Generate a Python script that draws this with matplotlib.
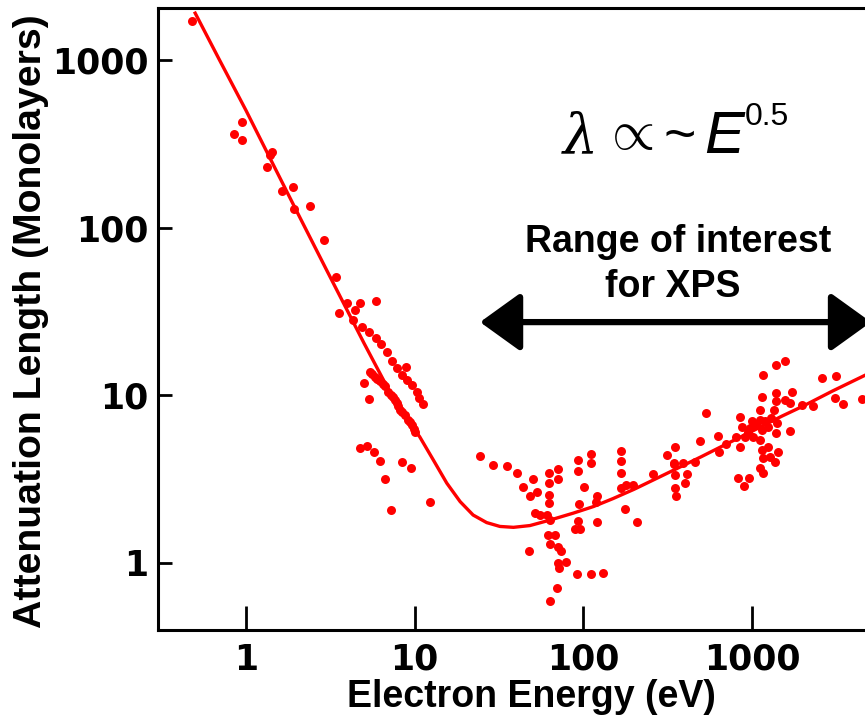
import numpy as np
import matplotlib.pyplot as plt
from matplotlib.patches import FancyArrowPatch
from matplotlib.ticker import NullLocator

# universal curve
curve_energy = [0.5, 0.7, 1, 1.5, 2, 3, 5, 7, 10, 10.7, 12.9, 15.5, 18.6, 22.2, 26.7,
                32, 38.5, 48.2, 63.3, 87, 115, 150, 200, 300, 500, 700, 1000, 1500,
                2000, 3000, 5000, 6000]
curve_length = [1900, 990, 500, 222, 125, 56, 20.5, 10.8, 6.2, 5.66, 4.11, 2.99, 2.32,
                1.93, 1.74, 1.65, 1.63, 1.67, 1.80, 1.98, 2.17, 2.42, 2.75, 3.35, 4.3,
                5.1, 6.1, 7.5, 8.6, 10.6, 13.6, 14.9]

# measured points, grouped by region of the plot
steep_energy = [0.48, 0.95, 0.85, 0.95, 1.43, 1.38, 1.33, 1.63, 1.91, 1.93, 2.39, 2.89]
steep_length = [1714, 428, 360, 333, 284, 270, 231, 165, 175, 129, 135, 84]

branch_energy = [3.42, 3.95, 4.74, 5.9, 3.56, 4.43, 4.32, 4.85, 5.36, 5.9, 6.3, 6.82,
                 7.3, 7.82, 8.85, 8.4, 8.97, 9.6, 10.3, 10.6, 11.2]
branch_length = [50.5, 35.7, 35.7, 36.6, 30.8, 32.3, 28.1, 25.6, 23.7, 22.0, 20.1, 18.2,
                 16.0, 14.5, 14.8, 13.2, 12.3, 11.5, 10.5, 9.6, 8.9]

cluster_energy = [5.43, 5.6, 5.8, 6.0, 6.23, 6.45, 6.67, 6.98, 7.2, 7.47, 7.65, 7.82,
                  8.0, 8.18, 8.45, 8.76, 9.15, 9.4, 9.6, 9.85, 10.05, 5.03, 5.38]
cluster_length = [13.8, 13.3, 12.9, 12.5, 12.1, 11.7, 11.3, 10.5, 10.1, 9.8, 9.4, 8.96,
                  8.6, 8.17, 7.9, 7.63, 7.12, 6.9, 6.65, 6.3, 6.07, 11.8, 9.5]

low_energy = [4.74, 5.23, 5.74, 6.23, 8.4, 9.5, 6.7, 12.3, 7.2, 24.4, 29.0]
low_length = [4.83, 4.98, 4.61, 4.07, 4.02, 3.67, 3.18, 2.32, 2.07, 4.36, 3.84]

dip_energy = [35.1, 40.4, 44, 50, 48.2, 53.3, 62.5, 71.1, 62.5, 71.1, 62.3, 62.5, 51.6,
              55.3, 60.6, 63.3, 62, 67.7, 63.3, 47.7, 71, 73.8, 71, 78.6, 71.9, 92,
              111, 131, 69.5, 63.3]
dip_length = [3.79, 3.44, 2.85, 3.18, 2.52, 2.64, 3.45, 3.63, 3.01, 3.16, 2.54, 2.27,
              1.98, 1.93, 1.93, 1.80, 1.47, 1.47, 1.30, 1.17, 1.24, 1.17, 1.0, 1.01,
              0.93, 0.86, 0.86, 0.87, 0.71, 0.59]

mid_energy = [92.9, 92.9, 111, 111, 101, 94.6, 93.4, 89, 96, 121, 118, 121, 167, 167,
              167, 167, 179, 196, 177, 207]
mid_length = [4.11, 3.54, 4.45, 3.93, 2.83, 2.25, 1.78, 1.59, 1.59, 2.49, 2.32, 1.76,
              4.67, 4.07, 3.45, 2.79, 2.92, 2.92, 2.09, 1.75]

upper_energy = [260, 312, 350, 343, 391, 458, 349, 413, 400, 349, 352, 491, 343, 533,
                625, 637, 700, 800]
upper_length = [3.4, 4.41, 4.94, 3.93, 3.93, 4.02, 3.35, 3.4, 2.99, 2.81, 2.51, 5.36,
                3.9, 7.81, 5.72, 4.57, 5.1, 5.6]

high_energy = [847, 867, 847, 907, 828, 899, 959, 972, 1017, 1114, 1114, 1140, 1114,
               1140, 1164, 1114, 1164, 1140, 1164, 1247, 1247, 1276, 1431, 1368, 1386,
               1386, 1349, 1397, 1386, 1386, 1574, 1567, 1717, 1678, 1678, 1966, 2287,
               2606, 3140, 3113, 3474, 4484, 950, 1000, 1050, 1200, 1300]
high_length = [7.45, 6.5, 4.94, 5.66, 3.2, 2.89, 3.2, 6.36, 5.66, 8.17, 7.12, 6.21,
               5.41, 4.72, 4.21, 3.67, 3.43, 9.8, 13.2, 6.5, 4.94, 4.3, 4.61, 4.02,
               10.3, 9.3, 8.17, 6.81, 5.93, 15.2, 16.0, 9.38, 10.4, 8.96, 6.12, 8.75,
               8.63, 12.6, 13.0, 9.6, 8.84, 9.47, 6.0, 7.0, 6.6, 7.0, 7.3]

energy = steep_energy + branch_energy + cluster_energy + low_energy + dip_energy + mid_energy + upper_energy + high_energy
length = steep_length + branch_length + cluster_length + low_length + dip_length + mid_length + upper_length + high_length

x_ticks = [1, 10, 100, 1000]
y_ticks = [1, 10, 100, 1000]

label_font = ['Liberation Sans']

fig = plt.figure(figsize=(8.65, 7.21), dpi=100)
ax = fig.add_axes([158 / 865, 91 / 721, 717 / 865, 622 / 721])
ax.set_xscale('log')
ax.set_yscale('log')
ax.set_xlim(0.301, 5352)
ax.set_ylim(0.398, 2039)

ax.plot(curve_energy, curve_length, color='red', lw=2.4, zorder=2)
ax.scatter(energy, length, s=42, color='red', lw=0, zorder=3)

ax.set_xticks(x_ticks)
ax.set_xticklabels([str(t) for t in x_ticks])
ax.set_yticks(y_ticks)
ax.set_yticklabels([str(t) for t in y_ticks])
ax.xaxis.set_minor_locator(NullLocator())
ax.yaxis.set_minor_locator(NullLocator())
ax.tick_params(axis='x', direction='in', length=17, width=2, pad=9, labelsize=25)
ax.tick_params(axis='y', direction='in', length=10, width=2, pad=7, labelsize=25)
for lab in ax.get_xticklabels() + ax.get_yticklabels():
    lab.set_fontweight('bold')

for side in ['left', 'bottom', 'top']:
    ax.spines[side].set_linewidth(2.2)
ax.spines['right'].set_visible(False)

fig.text(531 / 865, 1 - 697 / 721, 'Electron Energy (eV)', ha='center', va='center',
         fontsize=27, fontweight='bold', family=label_font)
fig.text(31 / 865, 1 - 321 / 721, 'Attenuation Length (Monolayers)', ha='center', va='center',
         rotation=90, fontsize=28.3, fontweight='bold', family=label_font)

# range of interest arrow
arrow = FancyArrowPatch((24.4, 27.3), (5070, 27.3), arrowstyle='<|-|>,head_length=25,head_width=18',
                        mutation_scale=1, color='black', lw=4.5, shrinkA=0, shrinkB=0,
                        transform=ax.transData, clip_on=False, zorder=4)
ax.add_patch(arrow)
fig.text(678 / 865, 1 - 242 / 721, 'Range of interest', ha='center', va='center',
         fontsize=27, fontweight='bold', family=label_font)
fig.text(673 / 865, 1 - 287 / 721, 'for XPS', ha='center', va='center',
         fontsize=27, fontweight='bold', family=label_font)

# lambda ~ E^0.5 note, built from pieces
base = 1 - 153 / 721
fig.text(563 / 865, base, '\u03bb', ha='left', va='baseline', fontsize=40,
         family='DejaVu Serif', style='italic')
fig.text(602 / 865, 1 - 134 / 721, r'$\propto$', ha='left', va='center', fontsize=40,
         math_fontfamily='cm')
fig.text(663 / 865, 1 - 138 / 721, '~', ha='left', va='center', fontsize=40,
         family='Liberation Sans')
fig.text(704 / 865, base, 'E', ha='left', va='baseline', fontsize=43,
         family='Liberation Sans', style='italic')
fig.text(745 / 865, 1 - 125 / 721, '0.5', ha='left', va='baseline', fontsize=23,
         family='Liberation Sans')

fig.savefig('out.png', dpi=100)
